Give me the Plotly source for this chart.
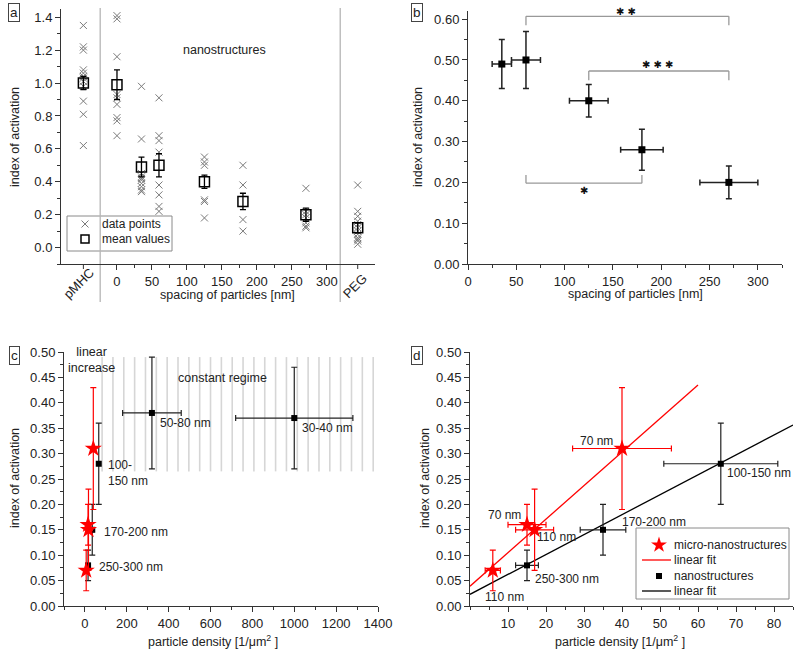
import plotly.graph_objects as go

FONT = "Liberation Sans, Arial, sans-serif"
DARK = "#222222"
AX = "#333333"

# ---------------- panel a data ----------------
a_groups = ["pMHC", "0", "35", "60", "125", "180", "270", "PEG"]
a_xpos = [-48, 0, 35, 60, 125, 180, 270, 344]
a_points = [
    [1.35, 1.22, 1.20, 1.08, 1.06, 1.04, 1.03, 1.01, 0.98, 0.89, 0.81, 0.62],
    [1.41, 1.39, 1.16, 0.93, 0.91, 0.87, 0.79, 0.77, 0.68],
    [0.98, 0.66, 0.45, 0.43, 0.42, 0.41, 0.39, 0.37, 0.35, 0.34],
    [0.91, 0.68, 0.65, 0.58, 0.38, 0.32, 0.25, 0.22],
    [0.55, 0.52, 0.50, 0.29, 0.28, 0.18],
    [0.50, 0.38, 0.17, 0.10],
    [0.36, 0.22, 0.20, 0.18, 0.15, 0.13, 0.12],
    [0.38, 0.22, 0.19, 0.16, 0.14, 0.12, 0.10, 0.08, 0.06, 0.05, 0.04, 0.02],
]
a_means = [1.00, 0.99, 0.49, 0.50, 0.40, 0.28, 0.20, 0.12]
a_err = [0.04, 0.09, 0.06, 0.07, 0.04, 0.05, 0.04, 0.03]
a_ticks = [0, 50, 100, 150, 200, 250, 300]

# ---------------- panel b data ----------------
b_spacing = [35, 60, 125, 180, 270]
b_spacing_err = [10, 15, 20, 22, 30]
b_index = [0.49, 0.50, 0.40, 0.28, 0.20]
b_index_err = [0.06, 0.07, 0.04, 0.05, 0.04]
# significance brackets: (x1, x2, y_line, y_tip, label, label_x, label_y)
b_brackets = [
    (60, 270, 0.607, 0.585, "✱ ✱", 164, 0.622),
    (125, 270, 0.473, 0.450, "✱ ✱ ✱", 197, 0.488),
    (60, 180, 0.198, 0.218, "✱", 120, 0.181),
]

# ---------------- panel c / d data ----------------
micro_density = [6, 15, 17, 40]
micro_density_err = [2, 5, 5, 13]
micro_index = [0.07, 0.16, 0.15, 0.31]
micro_index_err = [0.04, 0.04, 0.08, 0.12]

nano_density = [15, 35, 66]
nano_density_err = [3, 6, 15]
nano_index = [0.08, 0.15, 0.28]
nano_index_err = [0.03, 0.05, 0.08]

dense_density = [320, 1000]
dense_density_err = [140, 280]
dense_index = [0.38, 0.37]
dense_index_err = [0.11, 0.10]

fit_micro = (0.039, 0.0066, 60)   # intercept, slope, x end
fit_nano = (0.023, 0.00392, 85)


def px(x):
    return x / 800


def py(y):
    return (651 - y) / 651


fig = go.Figure()

STAR = dict(symbol="star", size=13, color="red", line=dict(width=0))
SQ = dict(symbol="square", size=6, color="black")

# ---------- panel a traces ----------
for xp, pts in zip(a_xpos, a_points):
    fig.add_trace(go.Scatter(
        x=[xp] * len(pts), y=pts, mode="markers",
        marker=dict(symbol="x-thin-open", size=7, color="#7a7a7a",
                    line=dict(width=1, color="#7a7a7a")),
        showlegend=False, xaxis="x", yaxis="y"))
fig.add_trace(go.Scatter(
    x=a_xpos, y=a_means, mode="markers",
    marker=dict(symbol="square-open", size=10, color="black", line=dict(width=1.5, color="black")),
    error_y=dict(type="data", array=a_err, color="black", thickness=1.3, width=3),
    showlegend=False, xaxis="x", yaxis="y"))

# ---------- panel b traces ----------
fig.add_trace(go.Scatter(
    x=b_spacing, y=b_index, mode="markers",
    marker=dict(symbol="square", size=7, color="black"),
    error_x=dict(type="data", array=b_spacing_err, color="#222", thickness=1.5, width=3),
    error_y=dict(type="data", array=b_index_err, color="#222", thickness=1.5, width=3),
    showlegend=False, xaxis="x2", yaxis="y2"))

# ---------- panel c traces ----------
fig.add_trace(go.Scatter(
    x=dense_density, y=dense_index, mode="markers", marker=SQ,
    error_x=dict(type="data", array=dense_density_err, color="#222", thickness=1.2, width=3),
    error_y=dict(type="data", array=dense_index_err, color="#222", thickness=1.2, width=3),
    showlegend=False, xaxis="x3", yaxis="y3"))
fig.add_trace(go.Scatter(
    x=nano_density, y=nano_index, mode="markers", marker=SQ,
    error_y=dict(type="data", array=nano_index_err, color="#222", thickness=1.2, width=3),
    showlegend=False, xaxis="x3", yaxis="y3"))
fig.add_trace(go.Scatter(
    x=micro_density, y=micro_index, mode="markers", marker=STAR,
    error_y=dict(type="data", array=micro_index_err, color="red", thickness=1.2, width=3),
    showlegend=False, xaxis="x3", yaxis="y3"))

# ---------- panel d traces ----------
b0, m0, xe0 = fit_micro
fig.add_trace(go.Scatter(
    x=[0, xe0], y=[b0, b0 + m0 * xe0], mode="lines",
    line=dict(color="red", width=1.3), showlegend=False, xaxis="x4", yaxis="y4"))
b1, m1, xe1 = fit_nano
fig.add_trace(go.Scatter(
    x=[0, xe1], y=[b1, b1 + m1 * xe1], mode="lines",
    line=dict(color="black", width=1.3), showlegend=False, xaxis="x4", yaxis="y4"))
fig.add_trace(go.Scatter(
    x=nano_density, y=nano_index, mode="markers", marker=SQ,
    error_x=dict(type="data", array=nano_density_err, color="#222", thickness=1.2, width=3),
    error_y=dict(type="data", array=nano_index_err, color="#222", thickness=1.2, width=3),
    showlegend=False, xaxis="x4", yaxis="y4"))
fig.add_trace(go.Scatter(
    x=micro_density, y=micro_index, mode="markers", marker=STAR,
    error_x=dict(type="data", array=micro_density_err, color="red", thickness=1.2, width=3),
    error_y=dict(type="data", array=micro_index_err, color="red", thickness=1.2, width=3),
    showlegend=False, xaxis="x4", yaxis="y4"))

# ---------- legend boxes on a hidden pixel-scaled overlay axis ----------
legend_a = [("x", "#7a7a7a", 85, 224, "data points", 100),
            ("sqopen", "black", 85, 239, "mean values", 100)]
legend_d = [("star", "red", 659, 545, "micro-nanostructures", 672),
            ("line", "red", 656, 560, "linear fit", 672),
            ("square", "black", 659, 576, "nanostructures", 672),
            ("line", "black", 656, 591, "linear fit", 672)]
for kind, col, lx, ly, label, tx in legend_a + legend_d:
    if kind == "line":
        fig.add_trace(go.Scatter(x=[lx - 14, lx + 15], y=[ly, ly], mode="lines",
                                 line=dict(color=col, width=1.3), showlegend=False,
                                 hoverinfo="skip", xaxis="x5", yaxis="y5"))
    else:
        mk = {"x": dict(symbol="x-thin-open", size=7, color=col, line=dict(width=1, color=col)),
              "sqopen": dict(symbol="square-open", size=8, color=col, line=dict(width=1.5, color=col)),
              "star": dict(symbol="star", size=12, color=col, line=dict(width=0)),
              "square": dict(symbol="square", size=6, color=col)}[kind]
        fig.add_trace(go.Scatter(x=[lx], y=[ly], mode="markers", marker=mk, showlegend=False,
                                 hoverinfo="skip", xaxis="x5", yaxis="y5"))

# ---------- axes ----------
def axis(**kw):
    base = dict(showline=True, linecolor=AX, linewidth=1, ticks="outside", ticklen=5,
                tickwidth=1, tickcolor=AX, showgrid=False, zeroline=False, automargin=False,
                tickfont=dict(family=FONT, size=13, color=DARK), fixedrange=True)
    base.update(kw)
    return base


def minor(**kw):
    d = dict(ticks="outside", ticklen=3, tickcolor=AX, tickwidth=1)
    d.update(kw)
    return d


fig.update_layout(
    xaxis=axis(domain=[0.07625, 0.469], range=[-80, 369], anchor="y",
               tickmode="array", tickvals=a_ticks,
               minor=minor(tickmode="array", tickvals=[25, 75, 125, 175, 225, 275])),
    yaxis=axis(domain=[py(264), py(9)], range=[-0.1, 1.45], anchor="x",
               tickmode="linear", tick0=0, dtick=0.2, tickformat=".1f",
               minor=minor(dtick=0.1, tick0=0)),
    xaxis2=axis(domain=[px(468), px(782)], range=[0, 325], anchor="y2",
                tickmode="linear", tick0=0, dtick=50,
                minor=minor(dtick=25, tick0=0)),
    yaxis2=axis(domain=[py(264), py(11)], range=[0, 0.62], anchor="x2",
                tickmode="linear", tick0=0, dtick=0.1, tickformat=".2f",
                minor=minor(dtick=0.05, tick0=0)),
    xaxis3=axis(domain=[px(64), px(378)], range=[-100, 1400], anchor="y3",
                tickmode="linear", tick0=0, dtick=200,
                minor=minor(dtick=100, tick0=0)),
    yaxis3=axis(domain=[py(606), py(352)], range=[0, 0.5], anchor="x3",
                tickmode="linear", tick0=0, dtick=0.05, tickformat=".2f",
                minor=minor(dtick=0.025, tick0=0)),
    xaxis4=axis(domain=[px(470), px(793)], range=[0, 85], anchor="y4",
                tickmode="array", tickvals=[10, 20, 30, 40, 50, 60, 70, 80],
                minor=minor(dtick=5, tick0=0)),
    yaxis4=axis(domain=[py(606), py(352)], range=[0, 0.5], anchor="x4",
                tickmode="linear", tick0=0, dtick=0.05, tickformat=".2f",
                minor=minor(dtick=0.025, tick0=0)),
    xaxis5=dict(domain=[0, 1], range=[0, 800], visible=False, fixedrange=True,
                automargin=False, anchor="y5"),
    yaxis5=dict(domain=[0, 1], range=[651, 0], visible=False, fixedrange=True,
                automargin=False, anchor="x5"),
)

shapes = []
annotations = []


def ann(text, x, y, xref="paper", yref="paper", size=12.5, xanchor="center",
        family=FONT, color=DARK, **kw):
    d = dict(text=text, x=x, y=y, xref=xref, yref=yref, showarrow=False,
             xanchor=xanchor, yanchor="middle", align=xanchor,
             font=dict(family=family, size=size, color=color))
    d.update(kw)
    annotations.append(d)


# legend boxes
shapes.append(dict(type="rect", xref="paper", yref="paper", x0=px(67), x1=px(172),
                   y0=py(251), y1=py(216), line=dict(color="#8a8a8a", width=1),
                   fillcolor="white", layer="below"))
shapes.append(dict(type="rect", xref="paper", yref="paper", x0=px(636), x1=px(789),
                   y0=py(599), y1=py(528), line=dict(color="#8a8a8a", width=1),
                   fillcolor="white", layer="below"))
for kind, col, lx, ly, label, tx in legend_a + legend_d:
    ann(label, px(tx), py(ly), xanchor="left", size=12)

# panel a separators and category ticks
for xs in [-24, 319]:
    shapes.append(dict(type="line", xref="x", yref="paper", x0=xs, x1=xs,
                       y0=py(302), y1=py(8),
                       line=dict(color="#b5b5b5", width=1.3), layer="below"))
for xs in [a_xpos[0], a_xpos[-1]]:
    shapes.append(dict(type="line", xref="x", yref="paper", x0=xs, x1=xs,
                       y0=py(264), y1=py(269), line=dict(color=AX, width=1)))
# rotated category labels
ann(a_groups[0], a_xpos[0] - 7, py(283), xref="x", size=13, textangle=-45)
ann(a_groups[-1], a_xpos[-1] - 5, py(286), xref="x", size=13, textangle=-45)
ann("nanostructures", 154, 1.2, xref="x", yref="y", size=12.5)

# panel b brackets
for x1, x2, yl, yt, lab, lx, ly in b_brackets:
    for seg in [(x1, yt, x1, yl), (x1, yl, x2, yl), (x2, yl, x2, yt)]:
        shapes.append(dict(type="line", xref="x2", yref="y2", x0=seg[0], y0=seg[1],
                           x1=seg[2], y1=seg[3], line=dict(color="#999999", width=1.3)))
    if ly > 0.61:
        ann(lab, lx, py(11), xref="x2", size=10, family="DejaVu Sans", color="#111")
    else:
        ann(lab, lx, ly, xref="x2", yref="y2", size=10, family="DejaVu Sans", color="#111")

# panel c hatch (constant regime): 26 evenly spaced light lines
hatch_start, hatch_end, hatch_n = 82, 1377, 26
for i in range(hatch_n):
    xh = hatch_start + (hatch_end - hatch_start) * i / (hatch_n - 1)
    shapes.append(dict(type="line", xref="x3", yref="y3", x0=xh, x1=xh, y0=0.265, y1=0.49,
                       line=dict(color="#d6d6d6", width=1.6), layer="below"))

c_texts = [
    ("linear<br>increase", 33, 0.484, "center", 12.5),
    ("constant regime", 655, 0.449, "center", 12.5),
    ("50-80 nm", 349, 0.360, "left", 12),
    ("30-40 nm", 1027, 0.350, "left", 12),
    ("100-<br>150 nm", 100, 0.261, "left", 12),
    ("170-200 nm", 81, 0.146, "left", 12),
    ("250-300 nm", 57, 0.077, "left", 12),
]
for t, x, y, anc, s in c_texts:
    ann(t, x, y, xref="x3", yref="y3", xanchor=anc, size=s)

d_texts = [
    ("70 nm", 33.3, 0.325, "center"),
    ("100-150 nm", 67.1, 0.262, "left"),
    ("170-200 nm", 39.6, 0.166, "left"),
    ("70 nm", 9.2, 0.179, "center"),
    ("110 nm", 17.0, 0.136, "left"),
    ("250-300 nm", 16.6, 0.053, "left"),
    ("110 nm", 3.4, 0.018, "left"),
]
for t, x, y, anc in d_texts:
    ann(t, x, y, xref="x4", yref="y4", xanchor=anc, size=12)

# axis titles
for t, x, y in [("spacing of particles [nm]", 228, 295), ("spacing of particles [nm]", 635, 294),
                ("particle density [1/μm<sup>2</sup> ]", 213, 641),
                ("particle density [1/μm<sup>2</sup> ]", 620, 641)]:
    ann(t, px(x), py(y), size=12.5)
for x, y in [(15, 137), (418, 137), (15, 478), (425, 478)]:
    ann("index of activation", px(x), py(y), size=12.5, textangle=-90)

# panel letters
for t, x, y in [("a", 14, 13), ("b", 417, 13), ("c", 14, 355), ("d", 417, 355)]:
    ann(t, px(x), py(y), size=13.5, bordercolor="#444", borderwidth=1, borderpad=1,
        bgcolor="white")

fig.update_layout(
    width=800, height=651, margin=dict(l=0, r=0, t=0, b=0, autoexpand=False),
    paper_bgcolor="white", plot_bgcolor="rgba(0,0,0,0)",
    shapes=shapes, annotations=annotations, showlegend=False,
    font=dict(family=FONT, size=12, color=DARK),
)

fig.write_html("out.html", config={"displayModeBar": False, "staticPlot": True},
               post_script="document.body.style.margin='0';document.body.style.overflow='hidden';")
